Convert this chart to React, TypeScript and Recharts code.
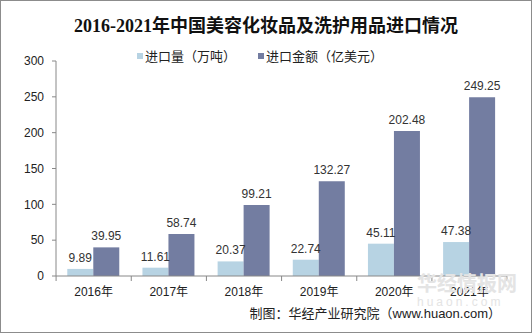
import { BarChart, Bar, XAxis, YAxis, LabelList } from "recharts";

const years = ["2016年", "2017年", "2018年", "2019年", "2020年", "2021年"];
const volume = [9.89, 11.61, 20.37, 22.74, 45.11, 47.38];
const amount = [39.95, 58.74, 99.21, 132.27, 202.48, 249.25];
const yTicks = [0, 50, 100, 150, 200, 250, 300];

const data = years.map((year, i) => ({ year, volume: volume[i], amount: amount[i] }));

const LIGHT = "#b7d3e3";
const DARK = "#737da1";
const FONT = "Arial, 'Liberation Sans', 'Noto Sans CJK SC', sans-serif";

const XTick = (props: any) => {
  const { x, y, payload, index, visibleTicksCount } = props;
  const band = 450 / years.length;
  const left = x - band / 2;
  return (
    <g>
      <line x1={left} x2={left} y1={y - 8} y2={y - 3} stroke="#888" />
      {index === visibleTicksCount - 1 && (
        <line x1={left + band} x2={left + band} y1={y - 8} y2={y - 3} stroke="#888" />
      )}
      <text x={x} y={y + 12} textAnchor="middle" fontSize={12} fill="#222" fontFamily={FONT}>
        {payload.value}
      </text>
    </g>
  );
};

export default function App() {
  return (
    <div
      style={{
        position: "fixed",
        left: 0,
        top: 0,
        width: 532,
        height: 333,
        boxSizing: "border-box",
        border: "1px solid #8c8c8c",
        background: "#fff",
        fontFamily: FONT,
      }}
    >
      <div
        style={{
          position: "absolute",
          top: 10,
          left: 0,
          width: 530,
          textAlign: "center",
          fontSize: 18,
          fontWeight: "bold",
          color: "#111",
          fontFamily: "'Liberation Serif', 'Noto Sans CJK SC', serif",
        }}
      >
        2016-2021年中国美容化妆品及洗护用品进口情况
      </div>
      <div
        style={{
          position: "absolute",
          top: 45,
          left: 136,
          fontSize: 13,
          color: "#222",
          display: "flex",
          alignItems: "center",
        }}
      >
        <span style={{ width: 6, height: 6, background: LIGHT, marginRight: 2 }} />
        <span>进口量（万吨）</span>
        <span style={{ width: 6, height: 6, background: DARK, marginLeft: 22, marginRight: 2 }} />
        <span>进口金额（亿美元）</span>
      </div>
      <div style={{ position: "absolute", top: 0, left: -1 }}>
        <BarChart
          width={532}
          height={333}
          data={data}
          margin={{ top: 60, right: 25, bottom: 28, left: 10 }}
          barCategoryGap="15%"
          barGap={0}
        >
          <XAxis
            dataKey="year"
            axisLine={{ stroke: "#888" }}
            tickLine={false}
            tick={<XTick />}
            interval={0}
            height={30}
          />
          <YAxis
            domain={[0, 300]}
            ticks={yTicks}
            width={46}
            axisLine={{ stroke: "#888" }}
            tickLine={{ stroke: "#888" }}
            tickSize={4}
            tickMargin={8}
            tick={{ fontSize: 12, fill: "#222", fontFamily: FONT }}
          />
          <Bar dataKey="volume" fill={LIGHT} isAnimationActive={false}>
            <LabelList dataKey="volume" position="top" offset={7} fontSize={12} fill="#333" fontFamily={FONT} />
          </Bar>
          <Bar dataKey="amount" fill={DARK} isAnimationActive={false}>
            <LabelList dataKey="amount" position="top" offset={7} fontSize={12} fill="#333" fontFamily={FONT} />
          </Bar>
        </BarChart>
      </div>
      <div
        style={{
          position: "absolute",
          top: 272,
          left: 416,
          color: "#e4e4e4",
          fontSize: 20,
          fontWeight: "bold",
          lineHeight: "22px",
          pointerEvents: "none",
        }}
      >
        华经情报网
        <div style={{ fontSize: 12, fontWeight: "normal", letterSpacing: 3, lineHeight: "14px" }}>huaon.com</div>
      </div>
      <div
        style={{
          position: "absolute",
          top: 302,
          right: 30,
          fontSize: 13,
          color: "#222",
        }}
      >
        制图：华经产业研究院（www.huaon.com）
      </div>
    </div>
  );
}
